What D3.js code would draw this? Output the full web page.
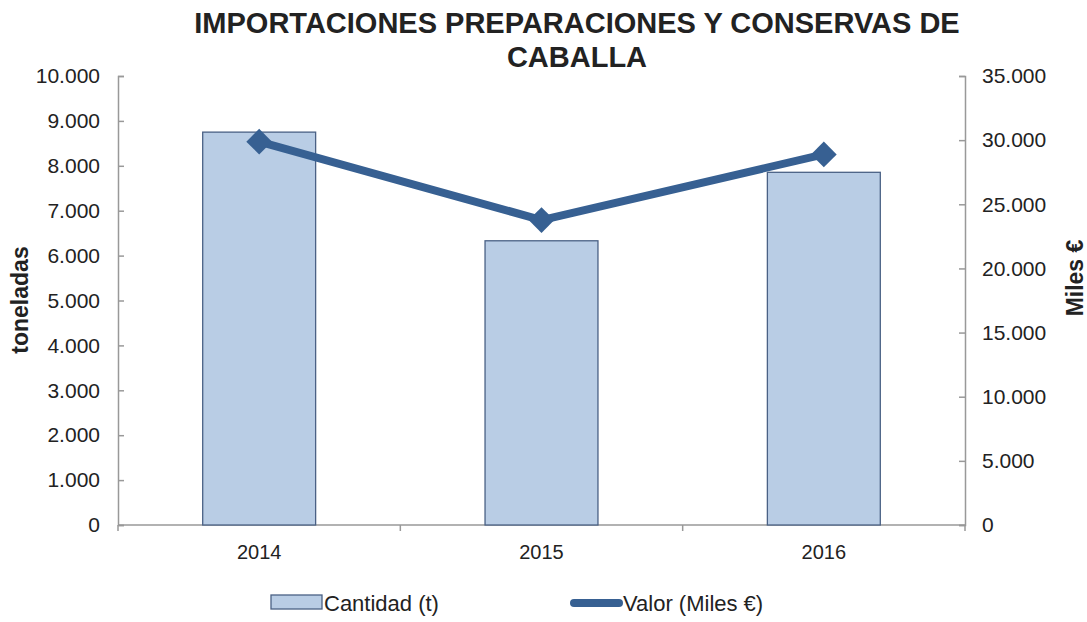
<!DOCTYPE html>
<html>
<head>
<meta charset="utf-8">
<script src="https://cdn.jsdelivr.net/npm/d3@7"></script>
<style>
  body { margin: 0; background: #fff; }
  svg text { font-family: "Liberation Sans", Arial, sans-serif; fill: #222; }
</style>
</head>
<body>
<svg id="chart"></svg>
<script>
// data
const years = ["2014", "2015", "2016"];
const cantidad = [8750, 6330, 7855];      // toneladas
const valor = [29880, 23770, 28890];      // miles €
const leftTicks = [0, 1000, 2000, 3000, 4000, 5000, 6000, 7000, 8000, 9000, 10000];
const rightTicks = [0, 5000, 10000, 15000, 20000, 25000, 30000, 35000];

const width = 1087, height = 622;
const margin = { top: 76, right: 122, bottom: 97, left: 118 };
const innerW = width - margin.left - margin.right;
const innerH = height - margin.top - margin.bottom;

const fmt = d => d === 0 ? "0" : d3.format(",")(d).replace(/,/g, ".");

const svg = d3.select("#chart").attr("width", width).attr("height", height);
const g = svg.append("g").attr("transform", `translate(${margin.left},${margin.top})`);

const x = d3.scaleBand().domain(years).range([0, innerW]).paddingInner(0.6).paddingOuter(0.3);
const yL = d3.scaleLinear().domain([0, 10000]).range([innerH, 0]);
const yR = d3.scaleLinear().domain([0, 35000]).range([innerH, 0]);

// title
svg.append("text")
  .attr("x", 577).attr("text-anchor", "middle")
  .style("font-size", "29px").style("font-weight", "bold")
  .selectAll("tspan")
  .data(["IMPORTACIONES PREPARACIONES Y CONSERVAS DE", "CABALLA"])
  .join("tspan")
  .attr("x", 577)
  .attr("y", (d, i) => 33 + i * 34)
  .text(d => d);

// left axis
const leftAxis = g.append("g")
  .call(d3.axisLeft(yL).tickValues(leftTicks).tickFormat(fmt).tickSize(-6).tickPadding(18));
leftAxis.selectAll("text").style("font-size", "21px");

// right axis
const rightAxis = g.append("g")
  .attr("transform", `translate(${innerW},0)`)
  .call(d3.axisRight(yR).tickValues(rightTicks).tickFormat(fmt).tickSize(-6).tickPadding(17));
rightAxis.selectAll("text").style("font-size", "21px");

// bottom axis with category boundary ticks
const bottom = g.append("g").attr("transform", `translate(0,${innerH})`);
bottom.append("line").attr("x1", 0).attr("x2", innerW).attr("stroke", "#999").attr("stroke-width", 1.5);
const bounds = d3.range(years.length + 1).map(i => i * innerW / years.length);
bottom.selectAll(".btick").data(bounds).join("line")
  .attr("x1", d => d).attr("x2", d => d).attr("y1", 0).attr("y2", 6)
  .attr("stroke", "#999").attr("stroke-width", 1.5);
bottom.selectAll(".blabel").data(years).join("text")
  .attr("x", d => x(d) + x.bandwidth() / 2).attr("y", 34)
  .attr("text-anchor", "middle").style("font-size", "20px")
  .text(d => d);

[leftAxis, rightAxis].forEach(a => {
  a.selectAll(".domain").attr("stroke", "#999").attr("stroke-width", 1.5);
  a.selectAll(".tick line").attr("stroke", "#999").attr("stroke-width", 1.5);
  a.selectAll("text").attr("fill", "#222");
});

// bars
g.selectAll(".bar").data(years).join("rect")
  .attr("class", "bar")
  .attr("x", d => x(d))
  .attr("width", x.bandwidth())
  .attr("y", (d, i) => yL(cantidad[i]))
  .attr("height", (d, i) => innerH - yL(cantidad[i]))
  .attr("fill", "#B9CDE5")
  .attr("stroke", "#4A6185")
  .attr("stroke-width", 1.3);

// line
const lineColor = "#376092";
const line = d3.line()
  .x((d, i) => x(years[i]) + x.bandwidth() / 2)
  .y(d => yR(d));
g.append("path").datum(valor)
  .attr("d", line)
  .attr("fill", "none").attr("stroke", lineColor).attr("stroke-width", 8)
  .attr("stroke-linejoin", "round");

const diamond = d3.symbol().type(d3.symbolSquare).size(330);
g.selectAll(".marker").data(valor).join("path")
  .attr("d", diamond)
  .attr("transform", (d, i) => `translate(${x(years[i]) + x.bandwidth() / 2},${yR(d)}) rotate(45)`)
  .attr("fill", lineColor);

// axis titles
svg.append("text")
  .attr("transform", "translate(28,300) rotate(-90)")
  .attr("text-anchor", "middle")
  .style("font-size", "23px").style("font-weight", "bold")
  .text("toneladas");
svg.append("text")
  .attr("transform", "translate(1083,278) rotate(-90)")
  .attr("text-anchor", "middle")
  .style("font-size", "23px").style("font-weight", "bold")
  .text("Miles €");

// legend
const legend = svg.append("g");
legend.append("rect")
  .attr("x", 271).attr("y", 595).attr("width", 51).attr("height", 14)
  .attr("fill", "#B9CDE5").attr("stroke", "#4A6185").attr("stroke-width", 1.3);
legend.append("text").attr("x", 324).attr("y", 611).style("font-size", "22px").text("Cantidad (t)");
legend.append("line")
  .attr("x1", 574).attr("x2", 619).attr("y1", 603).attr("y2", 603)
  .attr("stroke", lineColor).attr("stroke-width", 8).attr("stroke-linecap", "round");
legend.append("path")
  .attr("d", d3.symbol().type(d3.symbolSquare).size(30))
  .attr("transform", "translate(597,603) rotate(45)")
  .attr("fill", lineColor);
legend.append("text").attr("x", 623).attr("y", 611).style("font-size", "22px").text("Valor (Miles €)");
</script>
</body>
</html>
